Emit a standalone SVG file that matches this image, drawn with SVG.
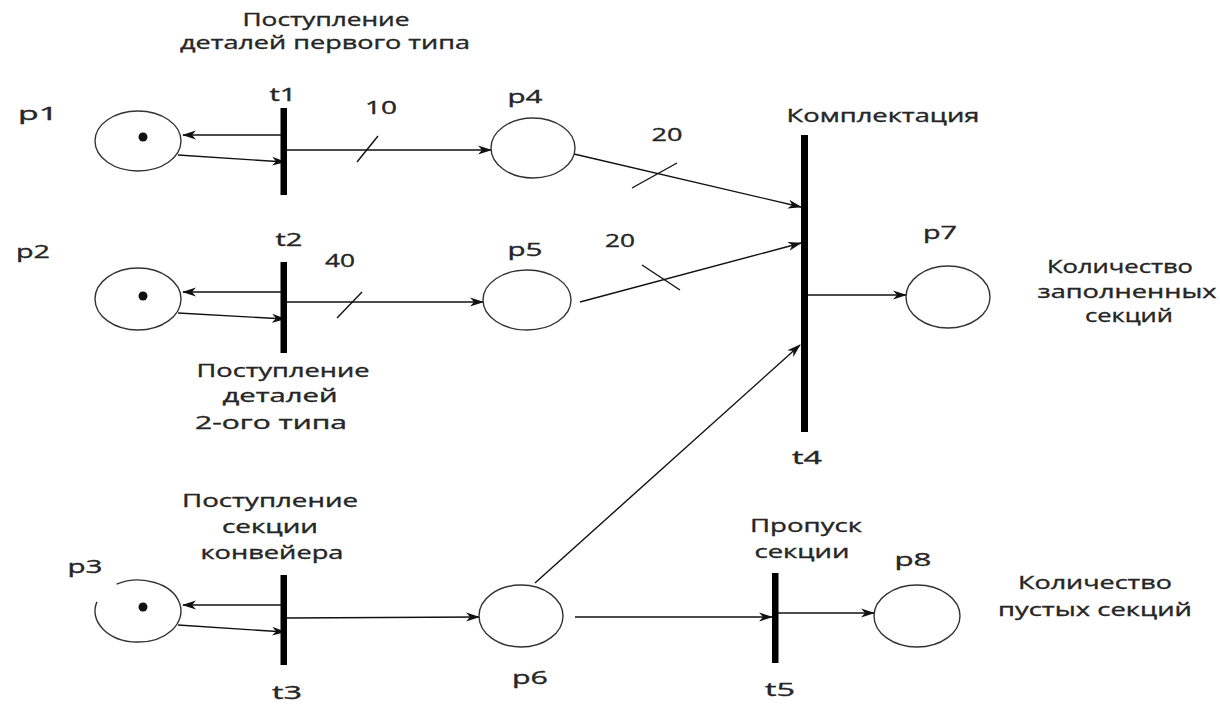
<svg xmlns="http://www.w3.org/2000/svg" width="1220" height="704" viewBox="0 0 1220 704">
<style>
text{font-family:"Open Sans","DejaVu Sans",sans-serif;font-size:18px;fill:#262626;stroke:#262626;stroke-width:0.35;text-anchor:middle}
.place{fill:none;stroke:#333;stroke-width:1.4}
.tok{fill:#111}
.bar{fill:#000}
.arc{stroke:#111;stroke-width:1.4;fill:none}
.arr{marker-end:url(#ah)}
</style>
<defs>
<marker id="ah" markerWidth="14" markerHeight="10" refX="13" refY="5" orient="auto" markerUnits="userSpaceOnUse">
<path d="M0,0.5 L14,5 L0,9.5 L4,5 z" fill="#111"/>
</marker>
</defs>
<rect width="1220" height="704" fill="#fff"/>

<g id="connectors">
<line class="arc arr" x1="281" y1="135" x2="183" y2="135"/>
<line class="arc arr" x1="178" y1="155" x2="285" y2="162"/>
<line class="arc arr" x1="287" y1="150" x2="491" y2="150"/>
<line class="arc" x1="357" y1="162" x2="378" y2="136"/>
<text x="381" y="114" textLength="32" lengthAdjust="spacingAndGlyphs">10</text>
<line class="arc arr" x1="574" y1="154" x2="801" y2="207"/>
<line class="arc" x1="632" y1="188" x2="677" y2="163"/>
<text x="667" y="141" textLength="31" lengthAdjust="spacingAndGlyphs">20</text>

<line class="arc arr" x1="281" y1="292" x2="183" y2="292"/>
<line class="arc arr" x1="178" y1="313" x2="285" y2="319"/>
<line class="arc arr" x1="287" y1="302" x2="483" y2="302"/>
<line class="arc" x1="337" y1="318" x2="362" y2="292"/>
<text x="340" y="267" textLength="30" lengthAdjust="spacingAndGlyphs">40</text>
<line class="arc arr" x1="580" y1="302" x2="801" y2="243"/>
<line class="arc" x1="642" y1="265" x2="680" y2="290"/>
<text x="620" y="247" textLength="30" lengthAdjust="spacingAndGlyphs">20</text>

<line class="arc arr" x1="808" y1="295" x2="906" y2="295"/>

<line class="arc arr" x1="281" y1="605" x2="183" y2="605"/>
<line class="arc arr" x1="178" y1="625" x2="285" y2="632"/>
<line class="arc arr" x1="287" y1="618" x2="479" y2="617"/>
<line class="arc arr" x1="535" y1="583" x2="800" y2="345"/>
<line class="arc arr" x1="575" y1="617" x2="772" y2="617"/>
<line class="arc arr" x1="778" y1="613" x2="874" y2="613"/>
</g>

<g id="p1">
<ellipse class="place" cx="138" cy="141" rx="43" ry="30"/>
<circle class="tok" cx="143" cy="137" r="4.5"/>
<text x="38" y="120" textLength="40" lengthAdjust="spacingAndGlyphs">p1</text>
</g>
<g id="p2">
<ellipse class="place" cx="138" cy="299" rx="43" ry="31"/>
<circle class="tok" cx="143" cy="296" r="4.5"/>
<text x="33" y="258" textLength="34" lengthAdjust="spacingAndGlyphs">p2</text>
</g>
<g id="p3">
<path class="place" d="M116.5,584.2 A43,31 0 1 1 96.9,601.9"/>
<circle class="tok" cx="143" cy="607" r="4.5"/>
<text x="85" y="573" textLength="35" lengthAdjust="spacingAndGlyphs">p3</text>
</g>
<g id="p4">
<ellipse class="place" cx="533" cy="148" rx="42" ry="30"/>
<text x="525" y="103" textLength="35" lengthAdjust="spacingAndGlyphs">p4</text>
</g>
<g id="p5">
<ellipse class="place" cx="527" cy="300" rx="44" ry="30"/>
<text x="525" y="256" textLength="35" lengthAdjust="spacingAndGlyphs">p5</text>
</g>
<g id="p6">
<ellipse class="place" cx="521" cy="616" rx="42" ry="31"/>
<text x="530" y="684" textLength="36" lengthAdjust="spacingAndGlyphs">p6</text>
</g>
<g id="p7">
<ellipse class="place" cx="948" cy="297" rx="42" ry="31"/>
<text x="940" y="239" textLength="34" lengthAdjust="spacingAndGlyphs">p7</text>
<text x="1120" y="273" textLength="146" lengthAdjust="spacingAndGlyphs">Количество</text>
<text x="1127" y="298" textLength="179" lengthAdjust="spacingAndGlyphs">заполненных</text>
<text x="1129" y="322" textLength="88" lengthAdjust="spacingAndGlyphs">секций</text>
</g>
<g id="p8">
<ellipse class="place" cx="917" cy="616" rx="43" ry="31"/>
<text x="913" y="566" textLength="37" lengthAdjust="spacingAndGlyphs">p8</text>
<text x="1095" y="589" textLength="154" lengthAdjust="spacingAndGlyphs">Количество</text>
<text x="1095" y="616" textLength="194" lengthAdjust="spacingAndGlyphs">пустых секций</text>
</g>

<g id="t1">
<rect class="bar" x="280.5" y="108" width="6.5" height="87"/>
<text x="283" y="101" textLength="27" lengthAdjust="spacingAndGlyphs">t1</text>
<text x="326" y="26" textLength="167" lengthAdjust="spacingAndGlyphs">Поступление</text>
<text x="325" y="49" textLength="290" lengthAdjust="spacingAndGlyphs">деталей первого типа</text>
</g>
<g id="t2">
<rect class="bar" x="280.5" y="262" width="6.5" height="91"/>
<text x="289" y="246" textLength="27" lengthAdjust="spacingAndGlyphs">t2</text>
<text x="283" y="377" textLength="173" lengthAdjust="spacingAndGlyphs">Поступление</text>
<text x="280" y="402" textLength="115" lengthAdjust="spacingAndGlyphs">деталей</text>
<text x="271" y="429" textLength="152" lengthAdjust="spacingAndGlyphs">2-ого типа</text>
</g>
<g id="t3">
<rect class="bar" x="280.5" y="575" width="6.5" height="90"/>
<text x="287" y="699" textLength="30" lengthAdjust="spacingAndGlyphs">t3</text>
<text x="270" y="507" textLength="176" lengthAdjust="spacingAndGlyphs">Поступление</text>
<text x="270" y="533" textLength="96" lengthAdjust="spacingAndGlyphs">секции</text>
<text x="272" y="559" textLength="143" lengthAdjust="spacingAndGlyphs">конвейера</text>
</g>
<g id="t4">
<rect class="bar" x="801" y="135" width="7" height="297"/>
<text x="807" y="464" textLength="30" lengthAdjust="spacingAndGlyphs">t4</text>
<text x="883" y="122" textLength="193" lengthAdjust="spacingAndGlyphs">Комплектация</text>
</g>
<g id="t5">
<rect class="bar" x="772" y="573" width="6.5" height="90"/>
<text x="780" y="696" textLength="30" lengthAdjust="spacingAndGlyphs">t5</text>
<text x="806" y="532" textLength="112" lengthAdjust="spacingAndGlyphs">Пропуск</text>
<text x="802" y="558" textLength="95" lengthAdjust="spacingAndGlyphs">секции</text>
</g>
</svg>
